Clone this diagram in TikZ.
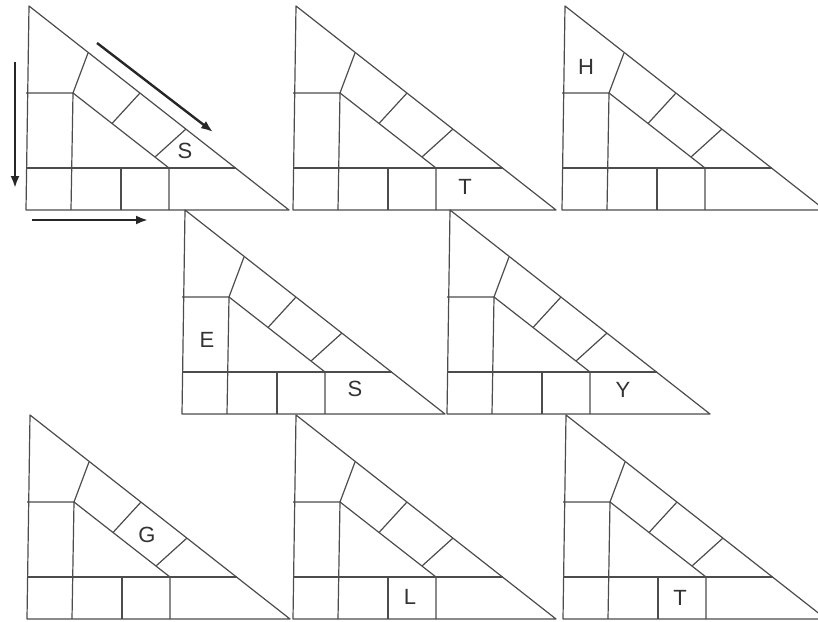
\documentclass[tikz,border=0pt]{standalone}
\usepackage{fontspec}
\setmainfont{Liberation Sans}
\usetikzlibrary{arrows.meta}
\begin{document}
\begin{tikzpicture}[x=1pt,y=-1pt,
  grid/.style={draw=black!70, line width=1.2pt, line join=round},
  letter/.style={font=\fontsize{22}{22}\selectfont, text=black!80, inner sep=0pt},
  bigarrow/.style={draw=black!85, line width=2.4pt, -{Latex[length=12pt,width=9pt]}},
  tri/.pic={
    \draw[grid] (0,0) -- (3,-204) -- (263,0) -- cycle;
    \draw[grid] (0,-42) -- (209.5,-42);
    \draw[grid] (0,-117) -- (47,-117) -- (45,0);
    \draw[grid] (62,-157) -- (47,-117) -- (143,-42) -- (143,0);
    \draw[grid] (95,0) -- (95,-42);
    \draw[grid] (86,-86.5) -- (114,-117);
    \draw[grid] (129,-53) -- (160,-81);
  }]
\useasboundingbox (0,0) rectangle (818,621);
\fill[white] (0,0) rectangle (818,621);
\pic at (26,210) {tri};
\pic at (293,210) {tri};
\pic at (562,210) {tri};
\pic at (182,414) {tri};
\pic at (447,414) {tri};
\pic at (27,619) {tri};
\pic at (293,619) {tri};
\pic at (563,619) {tri};
% letters
\node[letter] (s1) at (185,151) {S};
\node[letter] (t2) at (465,187) {T};
\node[letter] (h3) at (586,67) {H};
\node[letter] (e4) at (207,340) {E};
\node[letter] (s4) at (355,389) {S};
\node[letter] (y5) at (623,390) {Y};
\node[letter] (g6) at (147,535) {G};
\node[letter] (l7) at (410,597) {L};
\node[letter] (t8) at (680,598) {T};
% arrows
\coordinate (d1) at (97,43);
\coordinate (d2) at (213,132);
\coordinate (v1) at (15,62);
\coordinate (v2) at (15,188);
\coordinate (h1) at (32,220);
\coordinate (h2) at (148,220);
\draw[bigarrow] (d1) -- (d2);
\draw[bigarrow] (v1) -- (v2);
\draw[bigarrow] (h1) -- (h2);
\end{tikzpicture}
\end{document}
